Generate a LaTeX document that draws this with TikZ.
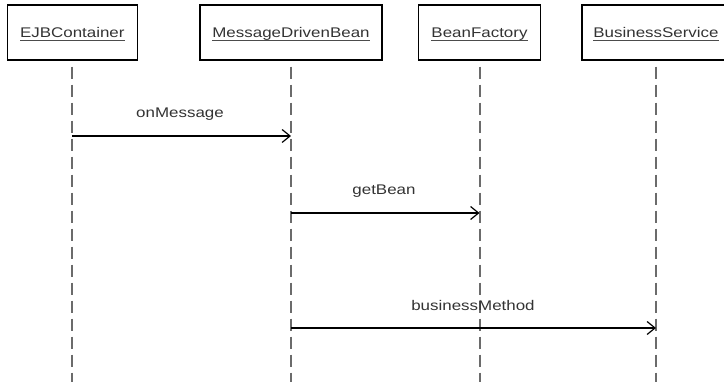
\documentclass[tikz,border=0pt]{standalone}
\usepackage{fontspec}
\setmainfont{Liberation Sans}[FakeStretch=1.21]
\usetikzlibrary{arrows.meta}
\newcommand\ulbox[1]{\setbox0\hbox{#1}\rlap{\smash{\color{black!70}\rule[-3.2pt]{\wd0}{1pt}}}\box0}
\tikzset{
  objbox/.style={draw=black, line width=1.5pt, minimum height=55pt, inner sep=0pt,
    text height=10pt, text depth=0pt, text=black!80, font=\fontsize{14pt}{16pt}\selectfont},
  lifeline/.style={draw=black!58, line width=2pt, dash pattern=on 12pt off 6pt, dash phase=12pt},
  msg/.style={draw=black, line width=1.3pt, -{Straight Barb[length=8pt,width=13pt,line width=1.2pt]}},
  msglabel/.style={anchor=base, inner sep=0pt, text=black!80, font=\fontsize{14pt}{16pt}\selectfont}
}
\begin{document}
\begin{tikzpicture}[x=1pt,y=-1pt]
\useasboundingbox (0,0) rectangle (724,382);
\begin{scope}
\clip (0,0) rectangle (724,382);
\node[objbox, minimum width=130pt] (ejb) at (72.3,32.5) {\ulbox{EJBContainer}};
\node[objbox, minimum width=182pt] (mdb) at (291,32.5) {\ulbox{MessageDrivenBean}};
\node[objbox, minimum width=121.6pt] (bf) at (479.5,32.5) {\ulbox{BeanFactory}};
\node[objbox, minimum width=148pt] (bs) at (656,32.5) {\ulbox{BusinessService}};

\coordinate (ejbend) at (72.3,384);
\coordinate (mdbend) at (291,384);
\coordinate (bfend) at (479.5,384);
\coordinate (bsend) at (656,384);
\draw[lifeline] (ejb.south) -- (ejbend);
\draw[lifeline] (mdb.south) -- (mdbend);
\draw[lifeline] (bf.south) -- (bfend);
\draw[lifeline] (bs.south) -- (bsend);

\coordinate (m1s) at (72.3,136);
\coordinate (m1e) at (291,136);
\coordinate (m2s) at (291,213);
\coordinate (m2e) at (479.5,213);
\coordinate (m3s) at (291,328);
\coordinate (m3e) at (656,328);
\draw[msg] (m1s) -- (m1e);
\draw[msg] (m2s) -- (m2e);
\draw[msg] (m3s) -- (m3e);
\node[msglabel] (l1) at (180,118) {onMessage};
\node[msglabel] (l2) at (384,195) {getBean};
\node[msglabel] (l3) at (473,311) {businessMethod};
\end{scope}
\end{tikzpicture}
\end{document}
